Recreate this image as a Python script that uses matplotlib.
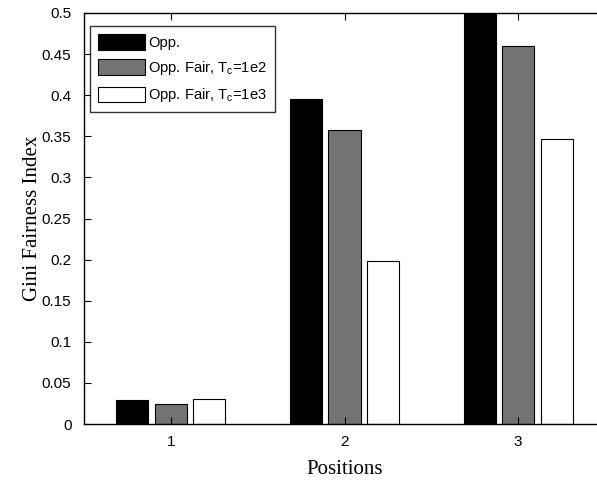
import matplotlib
matplotlib.use("Agg")
import matplotlib.pyplot as plt
import numpy as np

positions = [1, 2, 3]
series_labels = ["Opp.", r"Opp. Fair, T$_\mathregular{c}$=1e2", r"Opp. Fair, T$_\mathregular{c}$=1e3"]
opp = [0.029, 0.395, 0.500]
fair_1e2 = [0.024, 0.358, 0.460]
fair_1e3 = [0.031, 0.198, 0.347]
yticks = [0, 0.05, 0.1, 0.15, 0.2, 0.25, 0.3, 0.35, 0.4, 0.45, 0.5]
ytick_labels = ["0", "0.05", "0.1", "0.15", "0.2", "0.25", "0.3", "0.35", "0.4", "0.45", "0.5"]

plt.rcParams['font.family'] = ['Liberation Sans', 'DejaVu Sans']
plt.rcParams['mathtext.fontset'] = 'custom'
plt.rcParams['mathtext.rm'] = 'Liberation Sans'
plt.rcParams['mathtext.it'] = 'Liberation Sans'

W, H = 597, 482
fig = plt.figure(figsize=(W / 100, H / 100), dpi=100)
left, right, top, bottom = 84, 605, 13, 424
ax = fig.add_axes([left / W, 1 - bottom / H, (right - left) / W, (bottom - top) / H])

x = np.array(positions, dtype=float)
off = 0.222
w = 0.185
colors = ["#000000", "#737373", "#ffffff"]
for i, (vals, c, lab) in enumerate(zip([opp, fair_1e2, fair_1e3], colors, series_labels)):
    ax.bar(x + (i - 1) * off, vals, width=w, color=c, edgecolor="black", linewidth=0.8, label=lab)

ax.set_xlim(0.5, 3.5)
ax.set_ylim(0, 0.5)
ax.set_xticks(positions)
ax.set_xticklabels([str(p) for p in positions])
ax.set_yticks(yticks)
ax.set_yticklabels(ytick_labels)
ax.tick_params(direction="in", top=True, right=True, labelsize=11, length=5)
ax.tick_params(axis="y", pad=9)
ax.tick_params(axis="x", pad=8)
for s in ax.spines.values():
    s.set_linewidth(1.0)

ax.set_xlabel("Positions", family="Liberation Serif", fontsize=15)
ax.set_ylabel("Gini Fairness Index", family="Liberation Serif", fontsize=15)
ax.xaxis.set_label_coords(0.5, -0.088)
ax.yaxis.set_label_coords(-0.08, 0.5)

leg = ax.legend(loc="upper left", bbox_to_anchor=(0.011, 0.968), fontsize=10.6, frameon=True,
                fancybox=False, edgecolor="black", handlelength=3.2, handleheight=1.25,
                borderpad=0.55, labelspacing=0.62, handletextpad=0.2, borderaxespad=0)
leg.get_frame().set_linewidth(1.0)

fig.savefig("out.png", dpi=100)
